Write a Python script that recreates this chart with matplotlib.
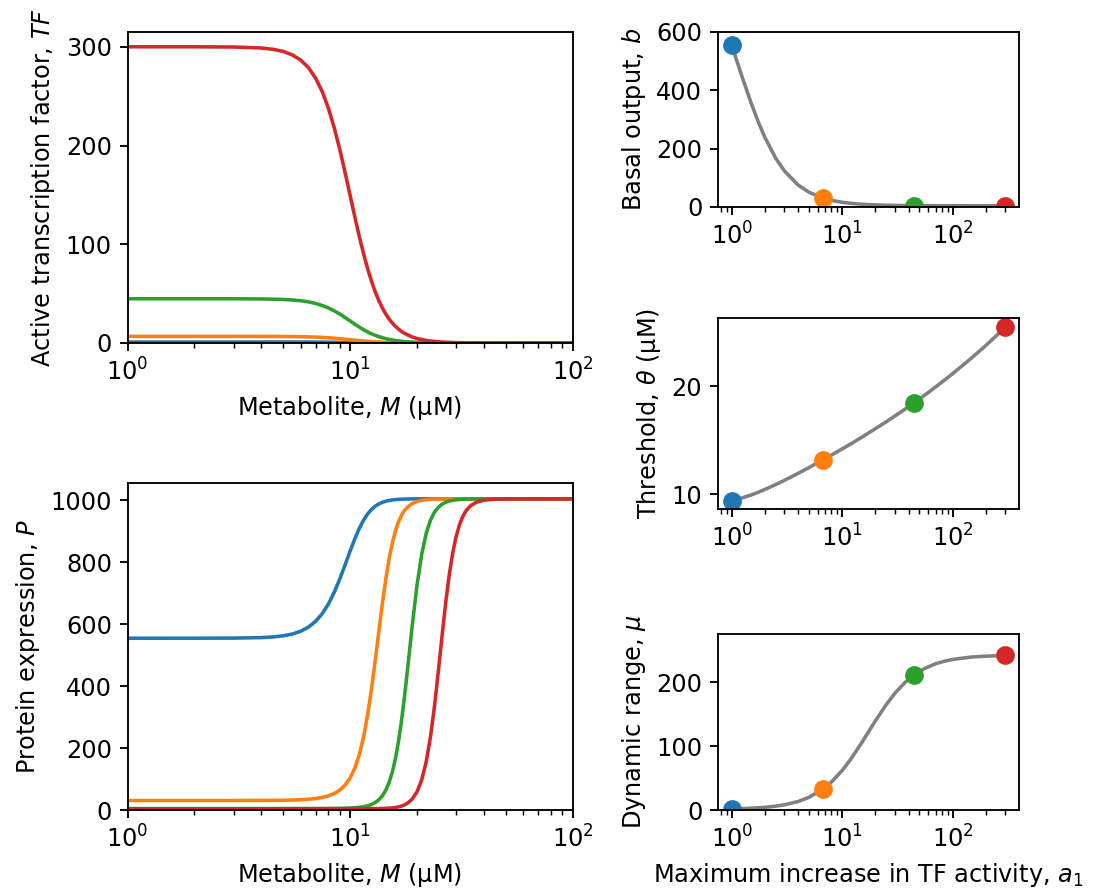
import matplotlib
matplotlib.use("Agg")
import matplotlib.pyplot as plt

plt.rcParams['font.size'] = 11.5
plt.rcParams['axes.linewidth'] = 0.9
plt.rcParams['xtick.major.size'] = 4
plt.rcParams['ytick.major.size'] = 4
plt.rcParams['xtick.minor.size'] = 2.3
plt.rcParams['ytick.minor.size'] = 2.3
plt.rcParams['xtick.major.width'] = 0.9
plt.rcParams['ytick.major.width'] = 0.9
plt.rcParams['xtick.minor.width'] = 0.7
plt.rcParams['ytick.minor.width'] = 0.7

# Metabolite concentrations (uM) at which the curves were read
metabolite = [1, 2, 3, 4, 4.5, 5,
              5.5, 6, 6.5, 7, 7.5, 8, 8.5, 9, 9.5, 10, 10.5, 11, 11.5,
              12, 12.5, 13, 13.5, 14, 14.5, 15, 15.5, 16, 16.5, 17, 17.5,
              18, 19, 20, 21, 22, 23, 24, 25, 26, 27, 28, 29, 30,
              31, 32, 33, 34, 35, 37, 40, 45, 50, 70, 100]

# Active transcription factor, one list per a1 value
tf_blue = [1.000, 1.000, 0.999, 0.996, 0.992, 0.985,
           0.973, 0.955, 0.930, 0.895, 0.849, 0.792, 0.726, 0.653, 0.576, 0.500, 0.427, 0.361,
           0.302, 0.251, 0.208, 0.172, 0.142, 0.117, 0.097, 0.081, 0.067, 0.056, 0.047, 0.040,
           0.034,
           0.029, 0.021, 0.015, 0.012, 0.009, 0.007, 0.005, 0.004, 0.003, 0.003, 0.002, 0.002,
           0.001,
           0.001, 0.001, 0.001, 0.001, 0.001, 0.0, 0.0, 0.0, 0.0, 0.0, 0.0]
tf_orange = [6.69, 6.69, 6.69, 6.66, 6.63, 6.59,
             6.51, 6.39, 6.22, 5.99, 5.68, 5.30, 4.86, 4.37, 3.86, 3.35, 2.86, 2.41, 2.02, 1.68,
             1.39, 1.15, 0.95, 0.78, 0.65, 0.54, 0.45, 0.38, 0.32, 0.27, 0.23,
             0.19, 0.14, 0.10, 0.08, 0.06, 0.04, 0.03, 0.03, 0.02, 0.02, 0.01, 0.01, 0.01,
             0.01, 0.01, 0.01, 0.0, 0.0, 0.0, 0.0, 0.0, 0.0, 0.0, 0.0]
tf_green = [44.8, 44.8, 44.8, 44.6, 44.4, 44.1,
            43.6, 42.8, 41.7, 40.1, 38.0, 35.5, 32.5, 29.3, 25.8, 22.4, 19.1, 16.2, 13.5, 11.2,
            9.3, 7.7, 6.4, 5.3, 4.4, 3.6, 3.0, 2.5, 2.1, 1.8, 1.5,
            1.3, 0.9, 0.7, 0.5, 0.4, 0.3, 0.2, 0.2, 0.1, 0.1, 0.1, 0.1, 0.1,
            0.05, 0.04, 0.03, 0.03, 0.02, 0.02, 0.01, 0.01, 0.0, 0.0, 0.0]
tf_red = [300.0, 300.0, 299.8, 298.8, 297.5, 295.4,
          291.9, 286.6, 279.0, 268.4, 254.7, 237.7, 217.8, 195.9, 172.9, 150.0, 128.2, 108.2,
          90.6, 75.3, 62.3, 51.5, 42.5, 35.2, 29.1, 24.2, 20.2, 16.9, 14.2, 11.9, 10.1,
          8.6, 6.2, 4.6, 3.5, 2.6, 2.0, 1.6, 1.2, 1.0, 0.8, 0.6, 0.5, 0.4,
          0.34, 0.28, 0.23, 0.19, 0.16, 0.12, 0.07, 0.04, 0.02, 0.0, 0.0]

# Protein expression
p_blue = [554.2, 554.3, 554.6, 556.2, 558.3, 561.9,
          567.7, 576.7, 589.9, 608.4, 633.3, 664.9, 702.8, 745.5, 790.4, 834.3, 874.1, 907.8,
          934.7, 955.1, 969.9, 980.5, 987.8, 992.9, 996.3, 998.7, 1000.3, 1001.4, 1002.2,
          1002.7, 1003.1,
          1003.3, 1003.6, 1003.8, 1003.9, 1003.9, 1004.0, 1004.0, 1004.0, 1004.0, 1004.0,
          1004.0, 1004.0, 1004.0,
          1004.0, 1004.0, 1004.0, 1004.0, 1004.0, 1004.0, 1004.0, 1004.0, 1004.0, 1004.0, 1004.0]
p_orange = [30.6, 30.6, 30.6, 30.8, 31.0, 31.4,
            32.1, 33.1, 34.6, 37.0, 40.5, 45.7, 53.3, 64.2, 80.0, 102.6, 134.2, 177.5, 234.8,
            306.8, 391.9, 485.3, 580.2, 669.4, 747.3, 811.5, 862.0, 900.2, 928.6, 949.3, 964.2,
            975.0, 988.4, 995.4, 999.2, 1001.2, 1002.4, 1003.0, 1003.4, 1003.6, 1003.8, 1003.8,
            1003.9, 1003.9,
            1004.0, 1004.0, 1004.0, 1004.0, 1004.0, 1004.0, 1004.0, 1004.0, 1004.0, 1004.0, 1004.0]
p_green = [4.6, 4.6, 4.6, 4.6, 4.6, 4.6,
           4.6, 4.7, 4.7, 4.8, 4.9, 5.0, 5.2, 5.4, 5.8, 6.4, 7.3, 8.7, 10.6, 13.6, 17.9, 24.3,
           33.4, 46.5, 64.7, 89.6, 122.7, 165.5, 218.7, 282.0, 354.0,
           431.6, 588.6, 724.3, 825.0, 892.6, 935.2, 961.4, 977.4, 987.2, 993.2, 997.0, 999.4,
           1000.9,
           1001.9, 1002.6, 1003.0, 1003.3, 1003.5, 1003.8, 1003.9, 1004.0, 1004.0, 1004.0, 1004.0]
p_red = [4.0, 4.0, 4.0, 4.0, 4.0, 4.0,
         4.0, 4.0, 4.0, 4.0, 4.0, 4.0, 4.0, 4.0, 4.0, 4.05, 4.07, 4.1, 4.15, 4.22, 4.31, 4.46,
         4.68, 4.99, 5.44, 6.08, 7.0, 8.28, 10.06, 12.5, 15.87,
         20.4, 34.4, 58.3, 96.8, 155.0, 235.9, 338.0, 453.6, 570.2, 676.1, 764.1, 832.3, 882.7,
         918.7, 944.1, 961.8, 974.1, 982.7, 993.0, 999.6, 1002.9, 1003.7, 1004.0, 1004.0]

# Summary metrics against maximum increase in TF activity a1
a1_points = [1, 6.69, 44.8, 300]
basal_points = [554.2, 30.7, 4.7, 4.1]
threshold_points = [9.37, 13.17, 18.46, 25.43]
range_points = [1.8, 32.7, 211.9, 242.3]

a1_curve = [1, 1.1, 1.25, 1.5, 1.75, 2, 2.5, 3, 4, 5, 6.69, 8, 10, 12, 15, 20, 25, 30, 37,
            44.8, 55, 70, 85, 100, 150, 200, 300]
basal_curve = [554.2, 506.8, 443.2, 356.3, 289.5, 238.3, 167.8, 123.7, 75.1, 50.7, 30.7,
               22.9, 16.2, 12.6, 9.5, 7.2, 6.1, 5.5, 5.0, 4.7, 4.5, 4.4, 4.3, 4.3, 4.2, 4.2, 4.1]
threshold_curve = [9.37, 9.49, 9.66, 9.93, 10.19, 10.44, 10.89, 11.28, 11.93, 12.46, 13.17,
                   13.62, 14.19, 14.66, 15.26, 16.06, 16.69, 17.23, 17.86, 18.46, 19.11, 19.91,
                   20.58, 21.15, 22.64, 23.76, 25.43]
range_curve = [1.81, 1.98, 2.27, 2.82, 3.47, 4.21, 5.98, 8.12, 13.37, 19.8, 32.7, 43.9, 61.9,
               80.0, 105.2, 139.8, 165.0, 183.0, 199.9, 211.9, 221.4, 229.3, 233.5, 236.1,
               240.0, 241.3, 242.3]

colors = ['C0', 'C1', 'C2', 'C3']
W, H = 1093, 892

fig = plt.figure(figsize=(W / 150, H / 150), dpi=150)

def box(x0, y0, x1, y1):
    # pixel box (top-left origin) -> figure fraction
    return [x0 / W, (H - y1) / H, (x1 - x0) / W, (y1 - y0) / H]

ax_tf = fig.add_axes(box(127.5, 32, 572.5, 343))
ax_p = fig.add_axes(box(127.5, 483, 572.5, 810))
ax_b = fig.add_axes(box(718, 32, 1019, 207))
ax_t = fig.add_axes(box(718, 318, 1019, 509))
ax_mu = fig.add_axes(box(718, 634, 1019, 810))

# Top-left: active TF
for tf, c in zip([tf_blue, tf_orange, tf_green, tf_red], colors):
    ax_tf.plot(metabolite, tf, color=c, lw=1.7)
ax_tf.set_xscale('log')
ax_tf.set_xlim(1, 100)
ax_tf.set_ylim(0, 315)
ax_tf.set_yticks([0, 100, 200, 300])
ax_tf.set_xlabel(r'Metabolite, $M$ (µM)')
ax_tf.set_ylabel(r'Active transcription factor, $TF$')

# Bottom-left: protein expression
for p, c in zip([p_blue, p_orange, p_green, p_red], colors):
    ax_p.plot(metabolite, p, color=c, lw=1.7)
ax_p.set_xscale('log')
ax_p.set_xlim(1, 100)
ax_p.set_ylim(0, 1055)
ax_p.set_yticks([0, 200, 400, 600, 800, 1000])
ax_p.set_xlabel(r'Metabolite, $M$ (µM)')
ax_p.set_ylabel(r'Protein expression, $P$')

# Right column
for ax, curve, pts in [(ax_b, basal_curve, basal_points),
                       (ax_t, threshold_curve, threshold_points),
                       (ax_mu, range_curve, range_points)]:
    ax.plot(a1_curve, curve, color='gray', lw=1.7, zorder=1)
    for a, v, c in zip(a1_points, pts, colors):
        ax.plot(a, v, 'o', color=c, ms=8, zorder=2)
    ax.set_xscale('log')

ax_b.set_ylim(0, 600)
ax_b.set_yticks([0, 200, 400, 600])
ax_b.set_ylabel(r'Basal output, $b$')

ax_t.set_ylim(8.63, 26.3)
ax_t.set_yticks([10, 20])
ax_t.set_ylabel(r'Threshold, $\theta$ (µM)')

ax_mu.set_ylim(0, 276)
ax_mu.set_yticks([0, 100, 200])
ax_mu.set_ylabel(r'Dynamic range, $\mu$')
ax_mu.set_xlabel(r'Maximum increase in TF activity, $a_1$')

fig.savefig('out.png', dpi=150)
